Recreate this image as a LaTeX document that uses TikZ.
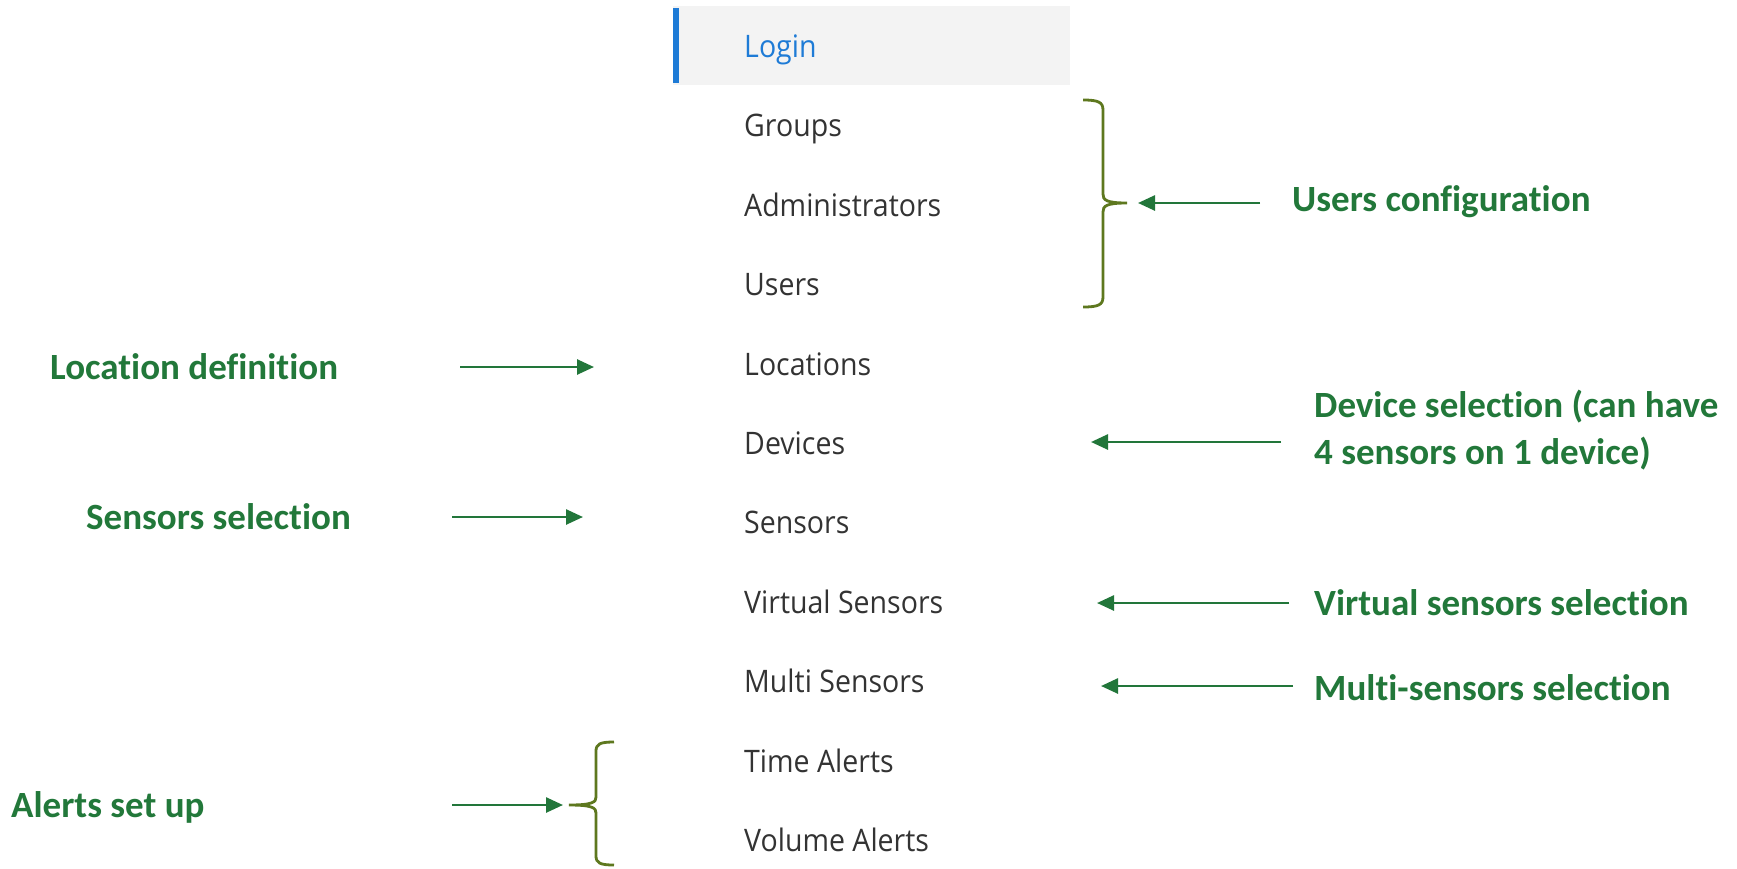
\documentclass[tikz,border=0pt]{standalone}
\usepackage{fontspec}
\setmainfont{Open Sans}
\newfontfamily\menufont[FakeStretch=0.92]{Open Sans}
\newfontfamily\labelfont[Ligatures=NoCommon]{Carlito}
\usetikzlibrary{arrows.meta}
\definecolor{menugray}{HTML}{333333}
\definecolor{loginblue}{HTML}{1E7BD6}
\definecolor{loginbg}{HTML}{F3F3F3}
\definecolor{notegreen}{HTML}{22783A}
\definecolor{arrowgreen}{HTML}{22763A}
\definecolor{braceolive}{HTML}{5E781F}
\pgfdeclareradialshading{bgshade}{\pgfpoint{0bp}{10bp}}{color(0bp)=(white); color(46bp)=(white); color(82bp)=(black!13)}
\tikzset{
  menuitem/.style={anchor=base west, inner sep=0pt, font=\menufont\fontsize{31}{37}\selectfont, text=menugray},
  note/.style={anchor=base west, inner sep=0pt, font=\labelfont\bfseries\fontsize{37}{47}\selectfont, text=notegreen, align=left},
  pointer/.style={draw=arrowgreen, line width=2.6pt, -{Triangle[length=17pt,width=15pt]}},
  bracepath/.style={draw=braceolive, line width=2.8pt}
}
\begin{document}
\begin{tikzpicture}[x=1pt,y=-1pt]
\useasboundingbox (0,0) rectangle (1737,868);
\shade[shading=bgshade] (0,0) rectangle (1737,868);
% login highlight
\fill[loginbg] (673,6) rectangle (1070,85);
\fill[loginblue] (673,8) rectangle (679,83);
% menu
\node[menuitem, text=loginblue] (login) at (744,57.5) {Login};
\node[menuitem] (groups) at (744,136.9) {Groups};
\node[menuitem] (admins) at (744,216.3) {Administrators};
\node[menuitem] (users) at (744,295.7) {Users};
\node[menuitem] (locations) at (744,375.1) {Locations};
\node[menuitem] (devices) at (744,454.5) {Devices};
\node[menuitem] (sensors) at (744,533.9) {Sensors};
\node[menuitem] (virtual) at (744,613.3) {Virtual Sensors};
\node[menuitem] (multi) at (744,692.7) {Multi Sensors};
\node[menuitem] (time) at (744,772.1) {Time Alerts};
\node[menuitem] (volume) at (744,851.5) {Volume Alerts};
% notes
\node[note] (usersconf) at (1292,211) {Users configuration};
\node[note] (locdef) at (50,379) {Location definition};
\node[note] (sensel) at (86,529) {Sensors selection};
\node[note] (devsel) at (1314,464) {Device selection (can have\\4 sensors on 1 device)};
\node[note] (virtsel) at (1314,615) {Virtual sensors selection};
\node[note] (multisel) at (1314,700) {Multi-sensors selection};
\node[note] (alerts) at (11,817) {Alerts set up};
% arrow ends
\coordinate (uc1) at (1260,203); \coordinate (uc2) at (1138,203);
\coordinate (ld1) at (460,367); \coordinate (ld2) at (594,367);
\coordinate (ss1) at (452,517); \coordinate (ss2) at (583,517);
\coordinate (ds1) at (1281,442); \coordinate (ds2) at (1091,442);
\coordinate (vs1) at (1289,603); \coordinate (vs2) at (1097,603);
\coordinate (ms1) at (1293,686); \coordinate (ms2) at (1101,686);
\coordinate (al1) at (452,805); \coordinate (al2) at (563,805);
\draw[pointer] (uc1) -- (uc2);
\draw[pointer] (ld1) -- (ld2);
\draw[pointer] (ss1) -- (ss2);
\draw[pointer] (ds1) -- (ds2);
\draw[pointer] (vs1) -- (vs2);
\draw[pointer] (ms1) -- (ms2);
\draw[pointer] (al1) -- (al2);
% braces
\draw[bracepath] (1083,100) .. controls (1098,100) and (1103,102) .. (1103,110)
  -- (1103,194) .. controls (1103,200) and (1106,203) .. (1127,203)
  .. controls (1106,203) and (1103,206) .. (1103,212)
  -- (1103,297) .. controls (1103,305) and (1098,307) .. (1083,307);
\draw[bracepath] (614,742) .. controls (600,742) and (596,744) .. (596,751)
  -- (596,797) .. controls (596,802) and (593,805) .. (569,805)
  .. controls (593,805) and (596,808) .. (596,813)
  -- (596,856) .. controls (596,863) and (600,865) .. (614,865);
\end{tikzpicture}
\end{document}
